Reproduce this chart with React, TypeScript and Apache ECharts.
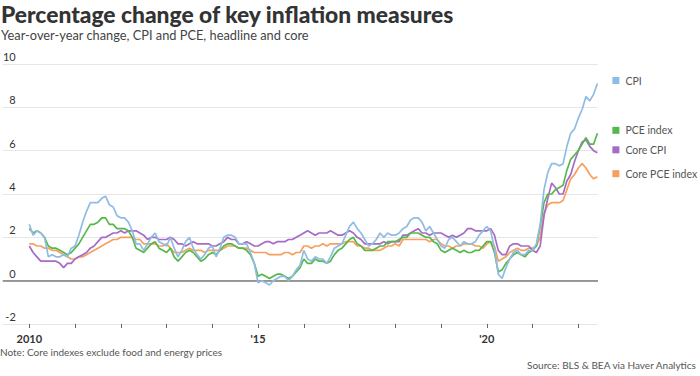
import React, { useEffect, useRef } from "react";
import * as echarts from "echarts";

// Monthly year-over-year % change, Jan 2010 – Jun 2022
const START_YEAR = 2010;
const cpi = [
  2.6, 2.1, 2.3, 2.2, 2.0, 1.1, 1.2, 1.1, 1.1, 1.2, 1.1, 1.5,
  1.6, 2.1, 2.7, 3.2, 3.6, 3.6, 3.6, 3.8, 3.9, 3.5, 3.4, 3.0,
  2.9, 2.9, 2.7, 2.3, 1.7, 1.7, 1.4, 1.7, 2.0, 2.2, 1.8, 1.7,
  1.6, 2.0, 1.5, 1.1, 1.4, 1.8, 2.0, 1.5, 1.2, 1.0, 1.2, 1.5,
  1.6, 1.1, 1.5, 2.0, 2.1, 2.1, 2.0, 1.7, 1.7, 1.7, 1.3, 0.8,
  -0.1, 0.0, -0.1, -0.2, 0.0, 0.1, 0.2, 0.2, 0.0, 0.2, 0.5, 0.7,
  1.4, 1.0, 0.9, 1.1, 1.0, 1.0, 0.8, 1.1, 1.5, 1.6, 1.7, 2.1,
  2.5, 2.7, 2.4, 2.2, 1.9, 1.6, 1.7, 1.9, 2.2, 2.0, 2.2, 2.1,
  2.1, 2.2, 2.4, 2.5, 2.8, 2.9, 2.9, 2.7, 2.3, 2.5, 2.2, 1.9,
  1.6, 1.5, 1.9, 2.0, 1.8, 1.6, 1.8, 1.7, 1.7, 1.8, 2.1, 2.3,
  2.5, 2.3, 1.5, 0.3, 0.1, 0.6, 1.0, 1.3, 1.4, 1.2, 1.2, 1.4,
  1.4, 1.7, 2.6, 4.2, 5.0, 5.4, 5.4, 5.3, 5.4, 6.2, 6.8, 7.0,
  7.5, 7.9, 8.5, 8.3, 8.6, 9.1,
];
const pce = [
  2.4, 2.2, 2.3, 2.2, 2.0, 1.6, 1.5, 1.5, 1.4, 1.3, 1.2, 1.3,
  1.5, 1.7, 2.0, 2.3, 2.6, 2.6, 2.7, 2.9, 2.9, 2.6, 2.6, 2.4,
  2.4, 2.4, 2.3, 2.0, 1.5, 1.4, 1.3, 1.5, 1.7, 1.8, 1.5, 1.4,
  1.3, 1.5, 1.1, 0.9, 1.1, 1.3, 1.4, 1.3, 1.1, 0.9, 1.0, 1.2,
  1.3, 1.2, 1.4, 1.6, 1.7, 1.7, 1.6, 1.5, 1.5, 1.4, 1.2, 0.8,
  0.2, 0.3, 0.2, 0.1, 0.2, 0.3, 0.3, 0.2, 0.1, 0.2, 0.4, 0.6,
  1.0, 0.8, 0.8, 1.0, 0.9, 0.9, 0.8, 0.9, 1.2, 1.4, 1.5, 1.7,
  1.9, 2.0, 1.7, 1.6, 1.4, 1.4, 1.4, 1.5, 1.6, 1.6, 1.8, 1.8,
  1.8, 1.9, 2.0, 2.0, 2.2, 2.2, 2.2, 2.1, 2.0, 2.0, 1.8, 1.7,
  1.4, 1.3, 1.4, 1.5, 1.4, 1.3, 1.4, 1.3, 1.3, 1.4, 1.4, 1.6,
  1.8, 1.8, 1.3, 0.4, 0.5, 0.8, 1.0, 1.2, 1.3, 1.2, 1.1, 1.3,
  1.4, 1.6, 2.5, 3.6, 4.0, 4.0, 4.2, 4.3, 4.4, 5.1, 5.6, 5.8,
  6.0, 6.3, 6.6, 6.3, 6.3, 6.8,
];
const coreCpi = [
  1.6, 1.3, 1.1, 0.9, 0.9, 0.9, 0.9, 0.9, 0.8, 0.6, 0.8, 0.8,
  1.0, 1.1, 1.2, 1.3, 1.5, 1.6, 1.8, 2.0, 2.0, 2.1, 2.2, 2.2,
  2.3, 2.2, 2.3, 2.3, 2.3, 2.2, 2.1, 1.9, 2.0, 2.0, 1.9, 1.9,
  1.9, 2.0, 1.9, 1.7, 1.7, 1.6, 1.7, 1.8, 1.7, 1.7, 1.7, 1.7,
  1.6, 1.6, 1.7, 1.8, 2.0, 1.9, 1.9, 1.7, 1.7, 1.8, 1.7, 1.6,
  1.6, 1.7, 1.8, 1.8, 1.7, 1.8, 1.8, 1.8, 1.9, 1.9, 2.0, 2.1,
  2.2, 2.3, 2.2, 2.1, 2.2, 2.2, 2.2, 2.3, 2.2, 2.1, 2.1, 2.2,
  2.3, 2.2, 2.0, 1.9, 1.7, 1.7, 1.7, 1.7, 1.7, 1.8, 1.7, 1.8,
  1.8, 1.8, 2.1, 2.1, 2.2, 2.3, 2.4, 2.2, 2.2, 2.1, 2.2, 2.2,
  2.2, 2.1, 2.0, 2.1, 2.0, 2.1, 2.2, 2.4, 2.4, 2.3, 2.3, 2.3,
  2.3, 2.4, 2.1, 1.4, 1.2, 1.2, 1.6, 1.7, 1.7, 1.6, 1.6, 1.6,
  1.4, 1.3, 1.6, 3.0, 3.8, 4.5, 4.3, 4.0, 4.0, 4.6, 4.9, 5.5,
  6.0, 6.4, 6.5, 6.2, 6.0, 5.9,
];
const corePce = [
  1.7, 1.7, 1.6, 1.6, 1.5, 1.5, 1.4, 1.4, 1.3, 1.2, 1.1, 1.0,
  1.0, 1.1, 1.1, 1.2, 1.3, 1.4, 1.5, 1.6, 1.7, 1.8, 1.9, 1.9,
  2.0, 2.0, 2.0, 2.0, 1.9, 1.9, 1.7, 1.7, 1.7, 1.7, 1.6, 1.6,
  1.7, 1.5, 1.3, 1.3, 1.3, 1.4, 1.5, 1.4, 1.4, 1.4, 1.3, 1.4,
  1.4, 1.4, 1.4, 1.5, 1.6, 1.6, 1.6, 1.5, 1.5, 1.5, 1.4, 1.3,
  1.3, 1.3, 1.3, 1.2, 1.2, 1.2, 1.2, 1.3, 1.3, 1.2, 1.3, 1.3,
  1.6, 1.6, 1.5, 1.6, 1.6, 1.7, 1.6, 1.7, 1.7, 1.7, 1.7, 1.8,
  1.8, 1.8, 1.6, 1.6, 1.5, 1.5, 1.4, 1.4, 1.4, 1.5, 1.6, 1.6,
  1.7, 1.6, 1.9, 1.9, 1.9, 1.9, 1.9, 1.9, 1.9, 1.8, 1.9, 1.9,
  1.7, 1.6, 1.6, 1.5, 1.6, 1.6, 1.7, 1.7, 1.7, 1.6, 1.6, 1.5,
  1.7, 1.8, 1.6, 0.9, 1.0, 1.1, 1.3, 1.4, 1.5, 1.4, 1.4, 1.5,
  1.5, 1.6, 2.0, 3.1, 3.5, 3.6, 3.6, 3.6, 3.7, 4.2, 4.7, 4.9,
  5.2, 5.4, 5.2, 4.9, 4.7, 4.8,
];

const seriesNames = ["Core PCE index", "Core CPI", "PCE index", "CPI"];
const seriesColors = ["#f6a060", "#a66bc6", "#55b84b", "#8fbce4"];
const seriesValues = [corePce, coreCpi, pce, cpi];

const yTicks = [-2, 0, 2, 4, 6, 8, 10];
const xTickYears = [2010, 2011, 2012, 2013, 2014, 2015, 2016, 2017, 2018, 2019, 2020, 2021, 2022];
const xLabelYears = [2010, 2015, 2020];

const FONT = "Lato, 'Open Sans', sans-serif";

export default function App() {
  const ref = useRef<HTMLDivElement>(null);

  useEffect(() => {
    if (!ref.current) return;
    const chart = echarts.init(ref.current, undefined, { renderer: "svg" });

    const series: any[] = seriesValues.map((vals, si) => ({
      name: seriesNames[si],
      type: "line",
      showSymbol: false,
      symbol: "none",
      z: 3 + si,
      lineStyle: { color: seriesColors[si], width: 1.7 },
      itemStyle: { color: seriesColors[si] },
      data: vals.map((v, i) => [START_YEAR + i / 12, v]),
      endLabel: {
        show: true,
        distance: 15,
        offset: [0, -3],
        formatter: `{sq|}{t|${seriesNames[si]}}`,
        rich: {
          sq: { width: 7, height: 7, backgroundColor: seriesColors[si] },
          t: { padding: [0, 0, 0, 6], fontSize: 10.5, color: "#555", fontFamily: FONT },
        },
      },
    }));
    series[0].markLine = {
      silent: true,
      symbol: "none",
      animation: false,
      label: { show: false },
      lineStyle: { color: "#7a7a7a", width: 1.5, type: "solid" },
      data: [{ yAxis: 0 }],
    };

    chart.setOption({
      animation: false,
      textStyle: { fontFamily: FONT },
      title: {
        text: "Percentage change of key inflation measures",
        subtext: "Year-over-year change, CPI and PCE, headline and core",
        left: 1,
        top: 2,
        padding: 0,
        itemGap: 3,
        textStyle: { fontFamily: FONT, fontSize: 22.8, fontWeight: 900, color: "#333" },
        subtextStyle: { fontFamily: FONT, fontSize: 12.8, color: "#444" },
      },
      grid: { left: 0, right: 102, top: 64, height: 260, containLabel: false },
      xAxis: {
        type: "value",
        min: 2009.42,
        max: 2022.43,
        splitLine: { show: false },
        axisLine: { show: false, onZero: false },
        axisTick: {
          show: true,
          customValues: xTickYears,
          length: 4,
          lineStyle: { color: "#666" },
        },
        axisLabel: {
          customValues: xLabelYears,
          margin: 9,
          fontSize: 11,
          fontWeight: "bold",
          color: "#333",
          fontFamily: FONT,
          formatter: (v: number) =>
            Math.round(v) === 2010 ? "2010" : "'" + String(Math.round(v)).slice(2),
        },
      },
      yAxis: {
        type: "value",
        min: yTicks[0],
        max: yTicks[yTicks.length - 1],
        interval: 2,
        axisLine: { show: false },
        axisTick: { show: false },
        splitLine: { show: true, lineStyle: { color: "#e6e6e6", width: 1 } },
        axisLabel: {
          inside: true,
          align: "right",
          margin: 13,
          verticalAlign: "bottom",
          padding: [0, 0, 2, 0],
          fontSize: 11,
          color: "#333",
          fontFamily: FONT,
        },
      },
      series,
      graphic: [
        {
          type: "text",
          left: 0,
          top: 347,
          style: {
            text: "Note: Core indexes exclude food and energy prices",
            fontSize: 10,
            fill: "#555",
            fontFamily: FONT,
          },
        },
        {
          type: "text",
          right: 3,
          top: 360,
          style: {
            text: "Source: BLS & BEA via Haver Analytics",
            fontSize: 10,
            fill: "#555",
            fontFamily: FONT,
          },
        },
      ],
    });

    return () => chart.dispose();
  }, []);

  return (
    <div
      ref={ref}
      style={{ position: "fixed", left: 0, top: 0, width: 700, height: 376, background: "#fff" }}
    />
  );
}
